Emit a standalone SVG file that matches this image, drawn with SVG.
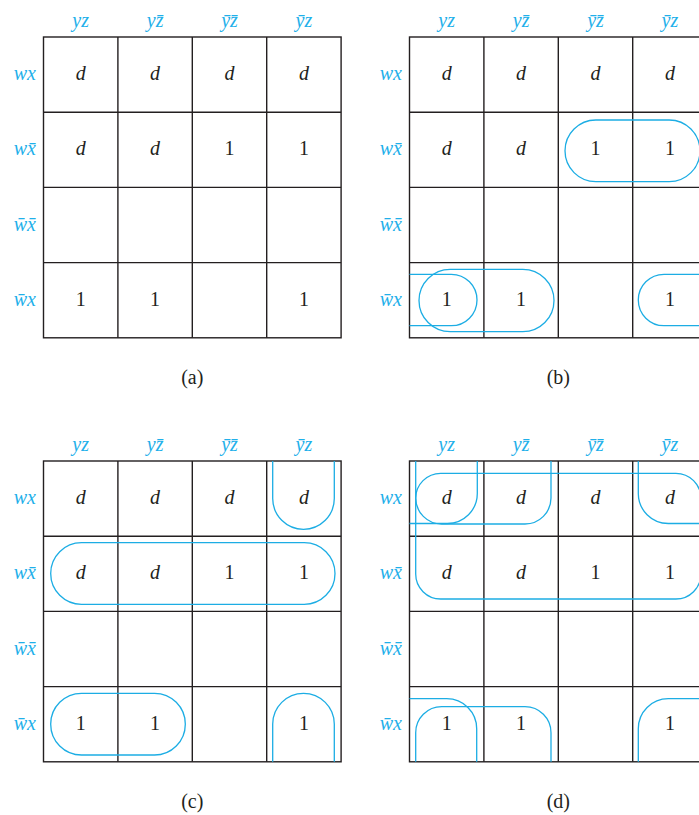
<svg xmlns="http://www.w3.org/2000/svg" width="699" height="815" viewBox="0 0 699 815">
<style>
.grid{fill:none;stroke:#231f20;stroke-width:1.4}
.loop{fill:none;stroke:#1cade4;stroke-width:1.3}
.lbl{font-family:"Liberation Serif",serif;font-style:italic;font-size:20px;fill:#1fb0ea}
.col{text-anchor:middle}
.row{text-anchor:end}
.v{font-family:"Liberation Serif",serif;font-size:20px;fill:#231f20;text-anchor:middle}
.it{font-style:italic}
.cap{font-family:"Liberation Serif",serif;font-size:20px;fill:#231f20;text-anchor:middle}
</style>
<rect width="699" height="815" fill="#fff"/>

<g id="map-a" transform="translate(43.5,37)">
  <g class="grid">
    <rect x="0" y="0" width="297.6" height="300.8"/>
    <path d="M74.4 0V300.8M148.8 0V300.8M223.2 0V300.8M0 75.2H297.6M0 150.4H297.6M0 225.6H297.6"/>
  </g>
  <g class="lbl col">
    <text x="37.2" y="-10">yz</text>
    <text x="111.6" y="-10">yz̄</text>
    <text x="186" y="-10">ȳz̄</text>
    <text x="260.4" y="-10">ȳz</text>
  </g>
  <g class="lbl row">
    <text x="-7.5" y="43.1">wx</text>
    <text x="-7.5" y="118.3">wx̄</text>
    <text x="-7.5" y="193.5">w̄x̄</text>
    <text x="-7.5" y="268.7">w̄x</text>
  </g>
  <g class="v">
    <text class="it" x="37.2" y="43.1">d</text>
    <text class="it" x="111.6" y="43.1">d</text>
    <text class="it" x="186" y="43.1">d</text>
    <text class="it" x="260.4" y="43.1">d</text>
    <text class="it" x="37.2" y="118.3">d</text>
    <text class="it" x="111.6" y="118.3">d</text>
    <text x="186" y="118.3">1</text>
    <text x="260.4" y="118.3">1</text>
    <text x="37.2" y="268.7">1</text>
    <text x="111.6" y="268.7">1</text>
    <text x="260.4" y="268.7">1</text>
  </g>
</g>

<g id="map-b" transform="translate(409.5,37)">
  <g class="grid">
    <rect x="0" y="0" width="297.6" height="300.8"/>
    <path d="M74.4 0V300.8M148.8 0V300.8M223.2 0V300.8M0 75.2H297.6M0 150.4H297.6M0 225.6H297.6"/>
  </g>
  <g class="lbl col">
    <text x="37.2" y="-10">yz</text>
    <text x="111.6" y="-10">yz̄</text>
    <text x="186" y="-10">ȳz̄</text>
    <text x="260.4" y="-10">ȳz</text>
  </g>
  <g class="lbl row">
    <text x="-7.5" y="43.1">wx</text>
    <text x="-7.5" y="118.3">wx̄</text>
    <text x="-7.5" y="193.5">w̄x̄</text>
    <text x="-7.5" y="268.7">w̄x</text>
  </g>
  <g class="v">
    <text class="it" x="37.2" y="43.1">d</text>
    <text class="it" x="111.6" y="43.1">d</text>
    <text class="it" x="186" y="43.1">d</text>
    <text class="it" x="260.4" y="43.1">d</text>
    <text class="it" x="37.2" y="118.3">d</text>
    <text class="it" x="111.6" y="118.3">d</text>
    <text x="186" y="118.3">1</text>
    <text x="260.4" y="118.3">1</text>
    <text x="37.2" y="268.7">1</text>
    <text x="111.6" y="268.7">1</text>
    <text x="260.4" y="268.7">1</text>
  </g>
</g>

<g id="map-c" transform="translate(43.5,461)">
  <g class="grid">
    <rect x="0" y="0" width="297.6" height="300.8"/>
    <path d="M74.4 0V300.8M148.8 0V300.8M223.2 0V300.8M0 75.2H297.6M0 150.4H297.6M0 225.6H297.6"/>
  </g>
  <g class="lbl col">
    <text x="37.2" y="-10">yz</text>
    <text x="111.6" y="-10">yz̄</text>
    <text x="186" y="-10">ȳz̄</text>
    <text x="260.4" y="-10">ȳz</text>
  </g>
  <g class="lbl row">
    <text x="-7.5" y="43.1">wx</text>
    <text x="-7.5" y="118.3">wx̄</text>
    <text x="-7.5" y="193.5">w̄x̄</text>
    <text x="-7.5" y="268.7">w̄x</text>
  </g>
  <g class="v">
    <text class="it" x="37.2" y="43.1">d</text>
    <text class="it" x="111.6" y="43.1">d</text>
    <text class="it" x="186" y="43.1">d</text>
    <text class="it" x="260.4" y="43.1">d</text>
    <text class="it" x="37.2" y="118.3">d</text>
    <text class="it" x="111.6" y="118.3">d</text>
    <text x="186" y="118.3">1</text>
    <text x="260.4" y="118.3">1</text>
    <text x="37.2" y="268.7">1</text>
    <text x="111.6" y="268.7">1</text>
    <text x="260.4" y="268.7">1</text>
  </g>
</g>

<g id="map-d" transform="translate(409.5,461)">
  <g class="grid">
    <rect x="0" y="0" width="297.6" height="300.8"/>
    <path d="M74.4 0V300.8M148.8 0V300.8M223.2 0V300.8M0 75.2H297.6M0 150.4H297.6M0 225.6H297.6"/>
  </g>
  <g class="lbl col">
    <text x="37.2" y="-10">yz</text>
    <text x="111.6" y="-10">yz̄</text>
    <text x="186" y="-10">ȳz̄</text>
    <text x="260.4" y="-10">ȳz</text>
  </g>
  <g class="lbl row">
    <text x="-7.5" y="43.1">wx</text>
    <text x="-7.5" y="118.3">wx̄</text>
    <text x="-7.5" y="193.5">w̄x̄</text>
    <text x="-7.5" y="268.7">w̄x</text>
  </g>
  <g class="v">
    <text class="it" x="37.2" y="43.1">d</text>
    <text class="it" x="111.6" y="43.1">d</text>
    <text class="it" x="186" y="43.1">d</text>
    <text class="it" x="260.4" y="43.1">d</text>
    <text class="it" x="37.2" y="118.3">d</text>
    <text class="it" x="111.6" y="118.3">d</text>
    <text x="186" y="118.3">1</text>
    <text x="260.4" y="118.3">1</text>
    <text x="37.2" y="268.7">1</text>
    <text x="111.6" y="268.7">1</text>
    <text x="260.4" y="268.7">1</text>
  </g>
</g>

<g id="loops" class="loop">
  <g id="loops-b" transform="translate(409.5,37)">
    <rect x="155.5" y="83" width="135" height="61.7" rx="30.85"/>
    <rect x="9.5" y="232.3" width="135" height="62.4" rx="31.2"/>
    <path d="M0 237.3H41.8A25.7 25.7 0 0 1 41.8 288.7H0"/>
    <path d="M297.6 237.3H254.5A25.7 25.7 0 0 0 254.5 288.7H297.6"/>
  </g>
  <g id="loops-c" transform="translate(43.5,461)">
    <path d="M229.2 0V37.5A30.8 30.8 0 0 0 290.8 37.5V0"/>
    <rect x="7.2" y="81.7" width="284.3" height="61.6" rx="30.8"/>
    <rect x="7.2" y="232.3" width="134.6" height="61.7" rx="30.8"/>
    <path d="M229.2 300.8V263.1A30.8 30.8 0 0 1 290.8 263.1V300.8"/>
  </g>
  <g id="loops-d" transform="translate(409.5,461)">
    <rect x="6.2" y="12.3" width="285.2" height="125.7" rx="25"/>
    <path d="M6.2 0V37A26 26 0 0 0 32.2 63H115.5A26 26 0 0 0 141.5 37V0"/>
    <path d="M0 62.5H37.8A30 30 0 0 0 67.8 32.5V0"/>
    <path d="M297.6 62.5H258.8A30 30 0 0 1 228.8 32.5V0"/>
    <path d="M0 237.7H37.2A30 30 0 0 1 67.2 267.7V300.8"/>
    <path d="M6.2 300.8V271.7A26 26 0 0 1 32.2 245.7H115.5A26 26 0 0 1 141.5 271.7V300.8"/>
    <path d="M297.6 237.7H258.8A30 30 0 0 0 228.8 267.7V300.8"/>
  </g>
</g>

<g id="captions" class="cap">
  <text x="192.3" y="384">(a)</text>
  <text x="558.3" y="384">(b)</text>
  <text x="192.3" y="808">(c)</text>
  <text x="558.3" y="808">(d)</text>
</g>
</svg>
